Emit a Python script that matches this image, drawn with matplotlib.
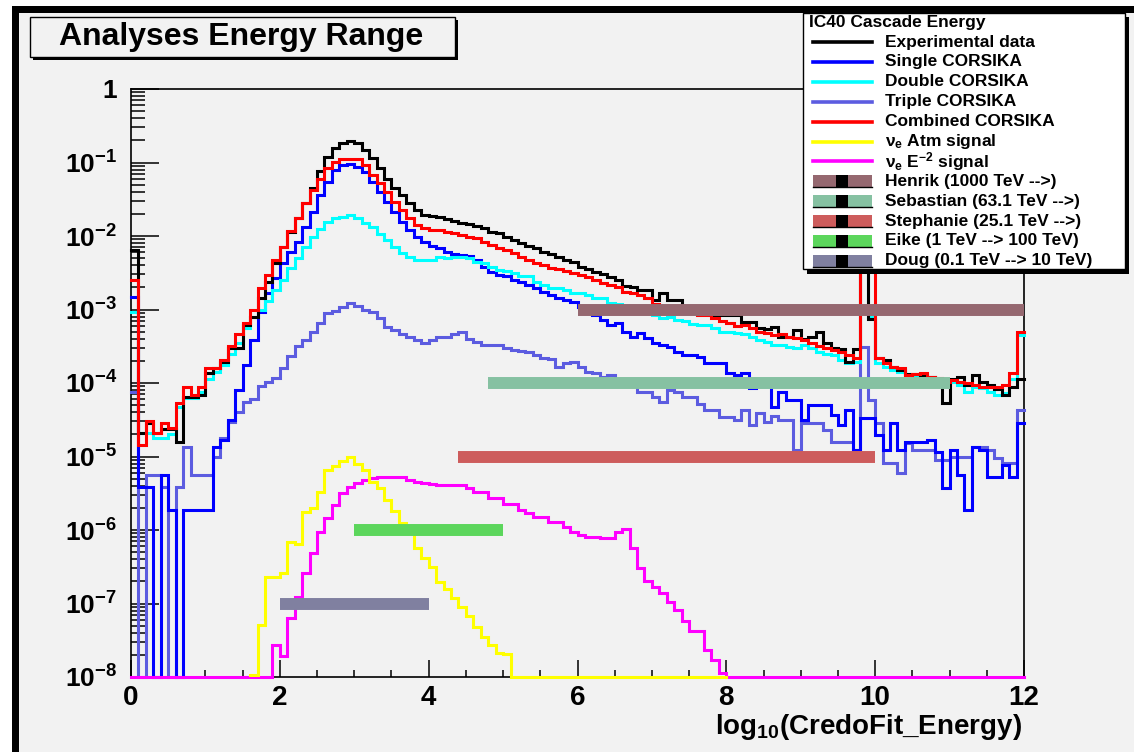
import numpy as np
import matplotlib
matplotlib.use('Agg')
import matplotlib.pyplot as plt
from matplotlib.ticker import LogLocator, NullFormatter, MultipleLocator
from matplotlib.patches import Rectangle

plt.rcParams['font.family'] = ['Liberation Sans', 'DejaVu Sans']
plt.rcParams['font.weight'] = 'bold'
plt.rcParams['mathtext.fontset'] = 'custom'
plt.rcParams['mathtext.rm'] = 'Liberation Sans:bold'
plt.rcParams['mathtext.bf'] = 'Liberation Sans:bold'
plt.rcParams['mathtext.it'] = 'Liberation Sans:bold'
plt.rcParams['mathtext.default'] = 'bf'

# histogram bins: log10(CredoFit_Energy) from 0 to 12, 120 bins
edges = np.linspace(0, 12, 121)

# bin contents, stored as log10(value); -8 = empty bin (drawn on the frame bottom)
exp_data = [-2.19, -4.68, -4.55, -4.68, -4.62, -4.62, -4.80, -4.19, -4.19, -4.16,
            -3.86, -3.80, -3.72, -3.52, -3.52, -3.21, -3.10, -2.85, -2.62, -2.37,
            -2.15, -1.95, -1.76, -1.55, -1.35, -1.12, -0.92, -0.80, -0.73, -0.71,
            -0.73, -0.83, -0.94, -1.07, -1.22, -1.35, -1.44, -1.55, -1.65, -1.71,
            -1.73, -1.74, -1.77, -1.80, -1.82, -1.84, -1.86, -1.89, -1.95, -1.96,
            -2.01, -2.05, -2.10, -2.14, -2.16, -2.22, -2.24, -2.29, -2.32, -2.36,
            -2.42, -2.45, -2.49, -2.52, -2.56, -2.60, -2.68, -2.69, -2.73, -2.73,
            -2.87, -2.78, -2.87, -2.87, -2.96, -3.00, -3.06, -3.06, -3.07, -3.07,
            -3.07, -3.07, -3.17, -3.17, -3.25, -3.27, -3.24, -3.37, -3.37, -3.28,
            -3.40, -3.38, -3.30, -3.45, -3.52, -3.54, -3.72, -3.54, -1.90, -3.13,
            -3.66, -3.69, -3.78, -3.82, -3.88, -3.88, -3.89, -3.92, -3.94, -4.27,
            -3.94, -3.92, -4.03, -3.89, -3.98, -4.03, -4.08, -4.16, -4.05, -3.95]

single = [-2.83, -5.42, -5.42, -8.00, -5.25, -5.73, -8.00, -5.73, -5.73, -5.73,
          -5.73, -4.87, -4.78, -4.50, -4.10, -3.76, -3.41, -3.03, -2.78, -2.57,
          -2.37, -2.22, -2.08, -1.88, -1.67, -1.44, -1.27, -1.10, -1.03, -1.02,
          -1.06, -1.13, -1.27, -1.40, -1.54, -1.67, -1.81, -1.92, -2.01, -2.08,
          -2.14, -2.16, -2.22, -2.24, -2.26, -2.27, -2.33, -2.42, -2.49, -2.53,
          -2.55, -2.60, -2.63, -2.67, -2.71, -2.76, -2.80, -2.84, -2.87, -2.90,
          -2.96, -3.05, -3.07, -3.14, -3.21, -3.18, -3.30, -3.37, -3.32, -3.39,
          -3.46, -3.48, -3.51, -3.58, -3.62, -3.62, -3.65, -3.73, -3.73, -3.73,
          -3.86, -3.89, -3.86, -4.07, -4.02, -4.02, -4.33, -4.12, -4.23, -4.23,
          -4.50, -4.30, -4.30, -4.30, -4.43, -4.57, -4.37, -4.91, -4.48, -4.48,
          -4.71, -4.91, -4.54, -4.91, -4.80, -4.80, -4.80, -4.78, -4.94, -5.43,
          -4.91, -5.25, -5.73, -4.87, -4.91, -5.28, -5.28, -5.12, -5.28, -4.55]

double = [-3.03, -4.68, -4.68, -4.75, -4.75, -4.70, -4.33, -4.20, -4.20, -4.12,
          -3.95, -3.85, -3.76, -3.60, -3.46, -3.25, -3.10, -3.00, -2.88, -2.73,
          -2.60, -2.44, -2.30, -2.15, -2.01, -1.90, -1.81, -1.76, -1.74, -1.71,
          -1.75, -1.82, -1.88, -1.97, -2.05, -2.15, -2.23, -2.28, -2.33, -2.33,
          -2.33, -2.28, -2.30, -2.28, -2.28, -2.30, -2.35, -2.37, -2.42, -2.46,
          -2.48, -2.51, -2.55, -2.55, -2.62, -2.67, -2.71, -2.71, -2.74, -2.77,
          -2.78, -2.80, -2.84, -2.85, -2.91, -2.93, -2.96, -2.98, -3.00, -3.02,
          -3.07, -3.12, -3.10, -3.14, -3.15, -3.20, -3.21, -3.21, -3.25, -3.30,
          -3.30, -3.32, -3.34, -3.37, -3.41, -3.44, -3.48, -3.48, -3.51, -3.52,
          -3.48, -3.53, -3.58, -3.60, -3.62, -3.69, -3.73, -3.71, -2.00, -3.10,
          -3.73, -3.78, -3.82, -3.85, -3.89, -3.92, -3.92, -3.92, -3.96, -3.98,
          -3.98, -4.03, -4.12, -4.05, -4.07, -4.12, -4.16, -4.14, -3.95, -3.35]

triple = [-4.12, -8.00, -5.25, -5.25, -5.42, -8.00, -5.42, -4.87, -5.25, -5.25,
          -5.25, -5.00, -4.75, -4.53, -4.39, -4.26, -4.22, -4.04, -3.98, -3.93,
          -3.80, -3.63, -3.50, -3.41, -3.30, -3.18, -3.05, -3.02, -2.97, -2.91,
          -2.95, -3.00, -3.04, -3.12, -3.24, -3.28, -3.33, -3.38, -3.42, -3.46,
          -3.41, -3.38, -3.37, -3.34, -3.31, -3.40, -3.44, -3.48, -3.48, -3.48,
          -3.52, -3.55, -3.57, -3.58, -3.62, -3.66, -3.68, -3.78, -3.73, -3.72,
          -3.78, -3.85, -3.87, -3.92, -3.89, -3.95, -3.98, -4.02, -4.12, -4.12,
          -4.19, -4.26, -4.10, -4.12, -4.19, -4.19, -4.28, -4.37, -4.37, -4.46,
          -4.46, -4.50, -4.37, -4.57, -4.41, -4.53, -4.45, -4.50, -4.50, -4.91,
          -4.54, -4.54, -4.54, -4.64, -4.80, -4.80, -4.80, -4.91, -3.51, -4.23,
          -4.54, -5.09, -5.09, -5.22, -4.82, -4.91, -4.91, -4.91, -5.05, -5.05,
          -5.00, -5.00, -5.00, -4.87, -4.87, -4.91, -5.02, -5.09, -5.09, -4.37]

combined = [-2.60, -4.84, -4.52, -4.68, -4.54, -4.61, -4.27, -4.05, -4.16, -4.05,
            -3.80, -3.80, -3.69, -3.50, -3.33, -3.18, -3.00, -2.71, -2.53, -2.33,
            -2.15, -1.93, -1.75, -1.55, -1.38, -1.22, -1.08, -0.99, -0.95, -0.95,
            -0.95, -1.03, -1.17, -1.28, -1.40, -1.54, -1.65, -1.76, -1.85, -1.89,
            -1.92, -1.92, -1.95, -1.96, -1.99, -2.01, -2.03, -2.08, -2.12, -2.16,
            -2.19, -2.23, -2.29, -2.33, -2.37, -2.40, -2.43, -2.45, -2.48, -2.50,
            -2.53, -2.56, -2.60, -2.64, -2.67, -2.69, -2.76, -2.78, -2.80, -2.84,
            -2.93, -2.95, -2.97, -2.99, -3.01, -3.03, -3.07, -3.08, -3.12, -3.16,
            -3.19, -3.23, -3.21, -3.25, -3.30, -3.32, -3.35, -3.34, -3.37, -3.39,
            -3.41, -3.46, -3.50, -3.52, -3.55, -3.58, -3.62, -3.66, -1.60, -1.60,
            -3.66, -3.73, -3.78, -3.80, -3.89, -3.88, -3.87, -3.92, -3.93, -3.98,
            -3.96, -3.98, -4.00, -4.03, -4.05, -4.05, -4.05, -4.03, -3.87, -3.30]

nan = np.nan
nue_atm = [nan] * 16 + [
    -7.97, -7.29, -6.64, -6.64, -6.59, -6.17, -6.19, -5.75, -5.70, -5.48,
    -5.18, -5.13, -5.06, -5.01, -5.10, -5.18, -5.35, -5.43, -5.59, -5.74,
    -5.90, -6.02, -6.24, -6.38, -6.51, -6.71, -6.80, -6.93, -7.05, -7.17,
    -7.32, -7.46, -7.56, -7.67, -7.69] + [-8.0] * 29 + [nan] * 40

nue_e2 = [-8.0] * 19 + [
    -7.56, -7.71, -7.20, -6.91, -6.59, -6.31, -6.03, -5.84, -5.66, -5.50,
    -5.41, -5.36, -5.32, -5.29, -5.28, -5.28, -5.28, -5.28, -5.32, -5.35,
    -5.36, -5.37, -5.39, -5.39, -5.39, -5.39, -5.43, -5.48, -5.48, -5.57,
    -5.57, -5.64, -5.64, -5.73, -5.77, -5.82, -5.82, -5.89, -5.89, -5.96,
    -6.03, -6.07, -6.09, -6.09, -6.11, -6.11, -6.03, -5.98, -6.24, -6.52,
    -6.69, -6.77, -6.86, -6.98, -7.09, -7.24, -7.37, -7.37, -7.63, -7.77,
    -7.95] + [-8.0] * 40

hist_labels = ['Experimental data', 'Single CORSIKA', 'Double CORSIKA',
               'Triple CORSIKA', 'Combined CORSIKA',
               r'$\nu_{e}$ Atm signal', r'$\nu_{e}$ $E^{-2}$ signal']
hist_colors = ['#000000', '#0000ff', '#00ffff', '#5c5ce0', '#ff0000',
               '#ffff00', '#ff00ff']
hist_data = [exp_data, single, double, triple, combined, nue_atm, nue_e2]
draw_order = [3, 1, 2, 0, 4, 6, 5]

# analyses energy ranges (log10 of energy in GeV) and level they are drawn at
ana_labels = ['Henrik (1000 TeV -->)', 'Sebastian (63.1 TeV -->)',
              'Stephanie (25.1 TeV -->)', 'Eike (1 TeV --> 100 TeV)',
              'Doug (0.1 TeV --> 10 TeV)']
ana_lo = [6.0, 4.8, 4.4, 3.0, 2.0]
ana_hi = [12.0, 11.0, 10.0, 5.0, 4.0]
ana_level = [1e-3, 1e-4, 1e-5, 1e-6, 1e-7]
ana_colors = ['#956870', '#86c1a2', '#cd5c5c', '#5cd65c', '#8080a0']

ytick_exp = np.arange(-8, 1)

bg = '#f2f2f2'
fig = plt.figure(figsize=(11.34, 7.52), dpi=100, facecolor=bg)
ax = fig.add_axes([131/1134, 1-677/752, (1024-131)/1134, (677-89)/752])
ax.set_facecolor(bg)


def steps(vals):
    v = 10.0 ** np.asarray(vals, float)
    return np.repeat(edges, 2)[1:-1], np.repeat(v, 2)


for i, k in enumerate(draw_order):
    xs, ys = steps(hist_data[k])
    ax.plot(xs, ys, color=hist_colors[k], lw=2.2, zorder=3+i*0.1,
            clip_on=False, solid_joinstyle='miter')

for lo, hi, lev, c in zip(ana_lo, ana_hi, ana_level, ana_colors):
    ax.hlines(lev, lo, hi, colors=c, lw=8.6, zorder=4)

ax.set_yscale('log')
ax.set_xlim(0, 12)
ax.set_ylim(1e-8, 1)
ax.set_yticks(10.0 ** ytick_exp)
ax.set_yticklabels(['$10^{%d}$' % e if e != 0 else '1' for e in ytick_exp])
ax.yaxis.set_minor_locator(LogLocator(base=10, subs=np.arange(2, 10), numticks=20))
ax.yaxis.set_minor_formatter(NullFormatter())
ax.xaxis.set_major_locator(MultipleLocator(2))
ax.xaxis.set_minor_locator(MultipleLocator(0.5))
ax.tick_params(axis='y', which='major', direction='in', length=20, width=1.1,
               labelsize=19, pad=10)
ax.tick_params(axis='y', which='minor', direction='in', length=10, width=1.1)
ax.tick_params(axis='x', which='major', direction='in', length=12, width=1.1,
               labelsize=20, pad=6)
ax.tick_params(axis='x', which='minor', direction='in', length=5, width=1.1)
for s in ax.spines.values():
    s.set_linewidth(1.2)

fig.text(1022/1134, 1-727/752, r'$log_{10}(CredoFit\_Energy)$', fontsize=20,
         ha='right', va='center')

# overlay in pixel coordinates for canvas frame, title and legend
ov = fig.add_axes([0, 0, 1, 1], zorder=10)
ov.set_xlim(0, 1134)
ov.set_ylim(752, 0)
ov.axis('off')
ov.add_patch(Rectangle((0, 0), 1134, 6, facecolor='white', lw=0))
ov.add_patch(Rectangle((0, 0), 12, 752, facecolor='white', lw=0))
ov.add_patch(Rectangle((12, 6), 1122, 7, facecolor='black', lw=0))
ov.add_patch(Rectangle((12, 6), 7, 746, facecolor='black', lw=0))

# title box
ov.add_patch(Rectangle((33, 20), 425, 40, facecolor='black', lw=0))
ov.add_patch(Rectangle((30, 17), 425, 40, facecolor=bg, edgecolor='black', lw=1))
ov.text(241, 37.5, 'Analyses Energy Range', fontsize=23, ha='center', va='center')

# legend box
ov.add_patch(Rectangle((807, 17), 322, 257, facecolor='black', lw=0))
ov.add_patch(Rectangle((803, 13), 322, 256, facecolor='white', edgecolor='black', lw=1))
ov.text(809, 23, 'IC40 Cascade Energy', fontsize=12.5, ha='left', va='center')
row_y = 42
for lab, c in zip(hist_labels, hist_colors):
    ov.add_patch(Rectangle((813, row_y-6), 59, 12, facecolor='white', lw=0))
    ov.plot([813, 872], [row_y, row_y], color=c, lw=2.6)
    ov.text(885, row_y, lab, fontsize=12.5, ha='left', va='center')
    row_y += 19.9
for lab, c in zip(ana_labels, ana_colors):
    ov.add_patch(Rectangle((813, row_y-6), 59, 12, facecolor=c, lw=0))
    ov.add_patch(Rectangle((836, row_y-6), 12, 12, facecolor='black', lw=0))
    ov.plot([813, 872], [row_y+6, row_y+6], color='black', lw=1)
    ov.text(885, row_y, lab, fontsize=12.5, ha='left', va='center')
    row_y += 19.9

fig.savefig('out.png', dpi=100, facecolor=bg)
